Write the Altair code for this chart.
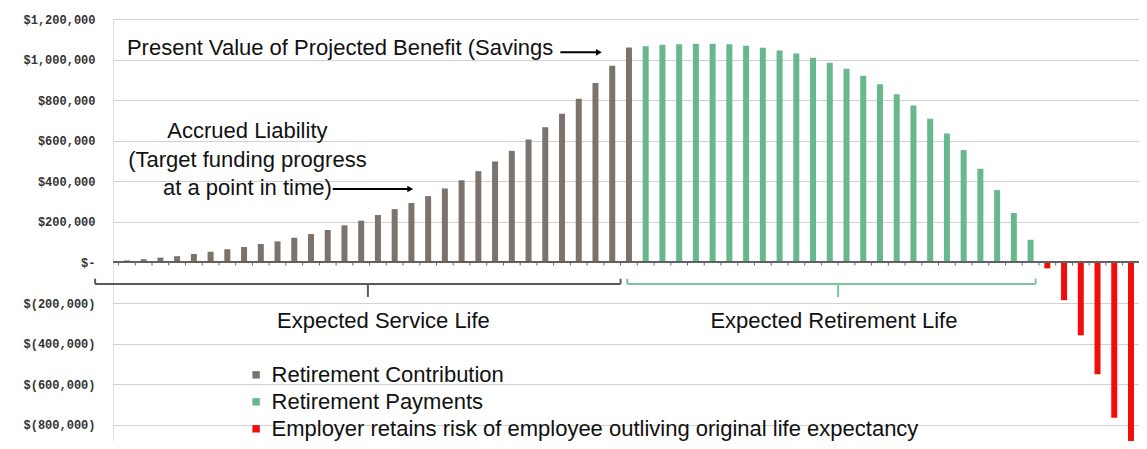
import altair as alt
import pandas as pd

# ---- data ----
contribution = [10000, 16000, 24000, 31000, 42000, 53000, 65000, 76000, 91000, 104000,
                122000, 140000, 160000, 183000, 206000, 234000, 263000, 293000, 327000, 365000,
                405000, 450000, 498000, 550000, 606000, 667000, 733000, 807000, 884000, 970000,
                1060000]
payments = [1066000, 1073000, 1076000, 1078000, 1078000, 1075000, 1068000, 1058000, 1045000,
            1030000, 1009000, 984000, 955000, 920000, 878000, 829000, 774000, 708000, 636000,
            554000, 462000, 357000, 244000, 112000]
risk = [-29000, -186000, -359000, -551000, -765000, -950000]

series_names = ["Retirement Contribution", "Retirement Payments",
                "Employer retains risk of employee outliving original life expectancy"]
series_colors = ["#7b746e", "#67b88c", "#f20c0c"]
first_color = "#4f7fae"

y_ticks = [-800000, -600000, -400000, -200000, 0, 200000, 400000, 600000, 800000, 1000000, 1200000]

# ---- tables ----
rows = []
idx = 0
for name, vals in zip(series_names, [contribution, payments, risk]):
    for v in vals:
        rows.append({"x": idx, "y": v, "series": name if idx > 0 else "first"})
        idx += 1
bars_df = pd.DataFrame(rows)
n = len(bars_df)

ticks_df = pd.DataFrame({"x": [i - 0.5 for i in range(n + 1)]})

FONT = "Liberation Sans"
xscale = alt.Scale(domain=[-0.533, 60.18], nice=False, zero=False)
yscale = alt.Scale(domain=[-880000, 1200000], nice=False, zero=False)

label_expr = ("datum.value == 0 ? '$-' : (datum.value < 0 ? '$(' + format(-datum.value, ',') + ')'"
              " : '$' + format(datum.value, ','))")

bars = alt.Chart(bars_df).mark_bar(size=6, clip=True).encode(
    x=alt.X("x:Q", scale=xscale, axis=None),
    y=alt.Y("y:Q", scale=yscale, stack=None, title=None,
            axis=alt.Axis(values=y_ticks, labelExpr=label_expr, grid=True, gridColor="#d2d2d2",
                          gridWidth=1, ticks=False, domain=False, labelFont="Liberation Mono",
                          labelFontWeight="bold", labelFontSize=12, labelColor="#333333",
                          labelPadding=18, minExtent=105, maxExtent=105, title=None)),
    color=alt.Color("series:N", legend=None,
                    scale=alt.Scale(domain=series_names + ["first"],
                                    range=series_colors + [first_color])),
)

zero_line = alt.Chart(bars_df).mark_rule(color="#666666", strokeWidth=1).encode(
    y=alt.datum(0)
)

tick_marks = alt.Chart(ticks_df).mark_rule(color="#666666", strokeWidth=1).encode(
    x=alt.X("x:Q", axis=None),
    y=alt.datum(0),
    y2=alt.datum(-15000),
)

# brackets under the two phases
bracket_y, hook_y, center_y = -106000, -80000, -170000
brackets = []
for (x0, x1, xc, col) in [(-1.9, 29.5, 14.4, "#5a5a5a"), (29.9, 54.3, 42.5, "#7cc49c")]:
    brackets += [
        {"x": x0, "x2": x1, "y": bracket_y, "y2": bracket_y, "c": col},
        {"x": x0, "x2": x0, "y": bracket_y, "y2": hook_y, "c": col},
        {"x": x1, "x2": x1, "y": bracket_y, "y2": hook_y, "c": col},
        {"x": xc, "x2": xc, "y": bracket_y, "y2": center_y, "c": col},
    ]
brackets_df = pd.DataFrame(brackets)
bracket_layer = alt.Chart(brackets_df).mark_rule(strokeWidth=2).encode(
    x=alt.X("x:Q", axis=None), x2="x2:Q",
    y=alt.Y("y:Q", title=None), y2="y2:Q",
    color=alt.Color("c:N", scale=None),
)

# arrows
arrows_df = pd.DataFrame([
    {"x": 25.9, "x2": 28.1, "y": 1036000, "y2": 1036000},
    {"x": 12.3, "x2": 16.8, "y": 362000, "y2": 362000},
])
arrow_lines = alt.Chart(arrows_df).mark_rule(color="black", strokeWidth=2).encode(
    x=alt.X("x:Q", axis=None), x2="x2:Q", y=alt.Y("y:Q", title=None), y2="y2:Q"
)
heads_df = pd.DataFrame([{"x": 28.2, "y": 1036000}, {"x": 16.93, "y": 362000}])
arrow_heads = alt.Chart(heads_df).mark_point(shape="triangle-right", filled=True, size=45,
                                             color="black", opacity=1).encode(
    x=alt.X("x:Q", axis=None), y=alt.Y("y:Q", title=None)
)

# text annotations
legend_y = [-554000, -687000, -820000]
left_text_df = pd.DataFrame([
    {"x": 0.0, "y": 1057000, "t": "Present Value of Projected Benefit (Savings"},
    {"x": 8.64, "y": legend_y[0], "t": series_names[0]},
    {"x": 8.64, "y": legend_y[1], "t": series_names[1]},
    {"x": 8.64, "y": legend_y[2], "t": series_names[2]},
])
left_text = alt.Chart(left_text_df).mark_text(align="left", baseline="middle", font=FONT,
                                              fontSize=22, color="#111111").encode(
    x=alt.X("x:Q", axis=None), y=alt.Y("y:Q", title=None), text="t:N"
)

center_text_df = pd.DataFrame([
    {"x": 7.2, "y": 648000, "t": "Accrued Liability"},
    {"x": 7.2, "y": 505000, "t": "(Target funding progress"},
    {"x": 7.2, "y": 367000, "t": "at a point in time)"},
    {"x": 15.33, "y": -288000, "t": "Expected Service Life"},
    {"x": 42.25, "y": -288000, "t": "Expected Retirement Life"},
])
center_text = alt.Chart(center_text_df).mark_text(align="center", baseline="middle", font=FONT,
                                                  fontSize=22, color="#111111").encode(
    x=alt.X("x:Q", axis=None), y=alt.Y("y:Q", title=None), text="t:N"
)

legend_df = pd.DataFrame([
    {"x": 7.72, "y": legend_y[0], "c": series_colors[0]},
    {"x": 7.72, "y": legend_y[1], "c": series_colors[1]},
    {"x": 7.72, "y": legend_y[2], "c": series_colors[2]},
])
legend_marks = alt.Chart(legend_df).mark_square(size=55, filled=True, opacity=1).encode(
    x=alt.X("x:Q", axis=None), y=alt.Y("y:Q", title=None),
    color=alt.Color("c:N", scale=None),
)

chart = alt.layer(
    bars, zero_line, tick_marks, bracket_layer, arrow_lines, arrow_heads,
    left_text, center_text, legend_marks
).properties(
    width=1026, height=422,
    autosize=alt.AutoSizeParams(type="none"),
    padding={"left": 105, "top": 11, "right": 0, "bottom": 0},
).configure_view(stroke=None).configure(background="white")

chart.save("out.html", embed_options={"renderer": "svg", "actions": False})
